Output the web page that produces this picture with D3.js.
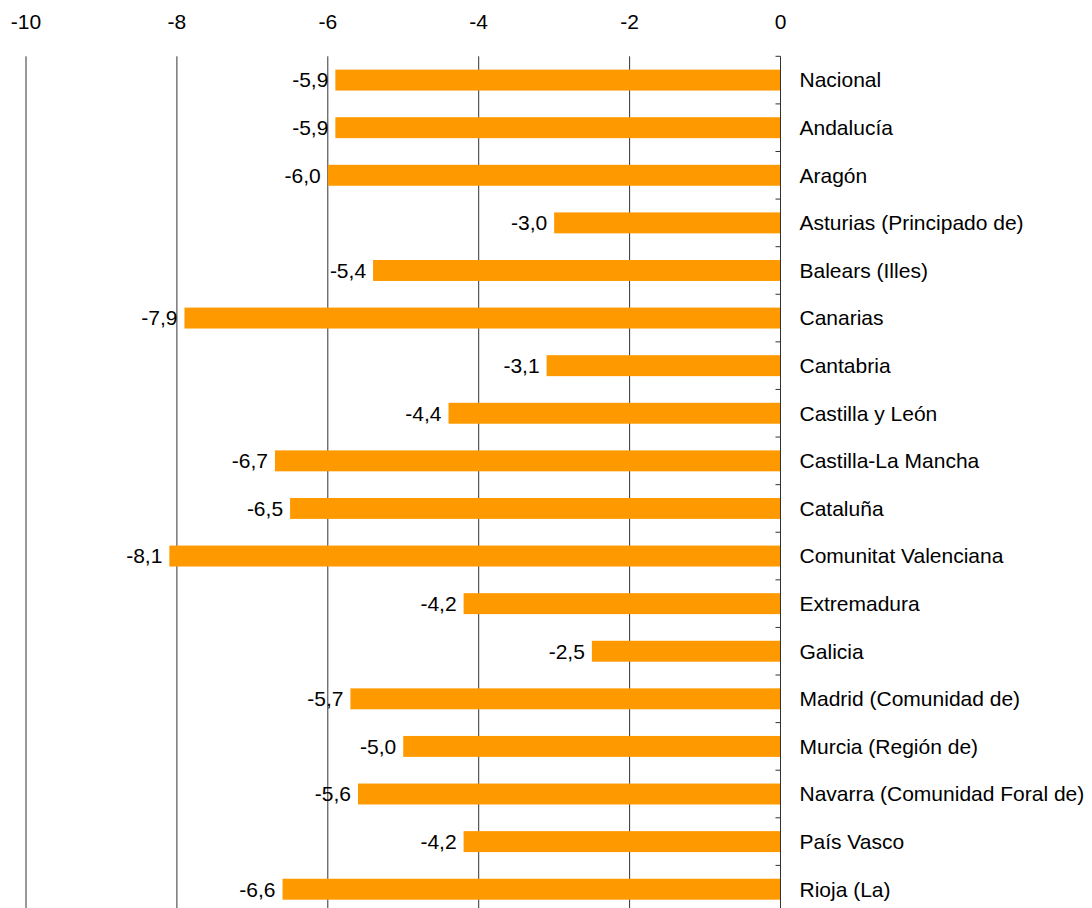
<!DOCTYPE html>
<html>
<head>
<meta charset="utf-8">
<script src="https://cdn.jsdelivr.net/npm/d3@7"></script>
<style>
  html, body { margin: 0; padding: 0; background: #fff; }
  svg text { font-family: "Liberation Sans", Arial, sans-serif; fill: #000; }
</style>
</head>
<body>
<div id="chart"></div>
<script>
const regions = [
  'Nacional', 'Andalucía', 'Aragón', 'Asturias (Principado de)', 'Balears (Illes)',
  'Canarias', 'Cantabria', 'Castilla y León', 'Castilla-La Mancha', 'Cataluña',
  'Comunitat Valenciana', 'Extremadura', 'Galicia', 'Madrid (Comunidad de)',
  'Murcia (Región de)', 'Navarra (Comunidad Foral de)', 'País Vasco', 'Rioja (La)'
];
const values = [-5.9, -5.9, -6.0, -3.0, -5.4, -7.9, -3.1, -4.4, -6.7, -6.5, -8.1, -4.2, -2.5, -5.7, -5.0, -5.6, -4.2, -6.6];
const xTicks = [-10, -8, -6, -4, -2, 0];

const width = 1092, height = 908;
const plotLeft = 26, plotRight = 780.5, plotTop = 56.3, plotBottom = 913;
const fontSize = 21;

const svg = d3.select('#chart').append('svg')
  .attr('width', width)
  .attr('height', height);

const x = d3.scaleLinear().domain([-10, 0]).range([plotLeft, plotRight]);
const y = d3.scaleBand().domain(regions).range([plotTop, plotBottom]).paddingInner(0.56).paddingOuter(0.28);
const yb = d3.scaleBand().domain(regions).range([plotTop, plotBottom]);

// vertical gridlines
svg.append('g')
  .selectAll('line')
  .data(xTicks.filter(t => t !== 0))
  .join('line')
  .attr('x1', d => x(d)).attr('x2', d => x(d))
  .attr('y1', plotTop).attr('y2', plotBottom)
  .attr('stroke', '#333')
  .attr('stroke-width', 1);

// top tick labels
svg.append('g')
  .selectAll('text')
  .data(xTicks)
  .join('text')
  .attr('x', d => x(d))
  .attr('y', 29)
  .attr('text-anchor', 'middle')
  .attr('font-size', fontSize)
  .text(d => d);

// bars
svg.append('g')
  .selectAll('rect')
  .data(regions)
  .join('rect')
  .attr('x', (d, i) => x(values[i]))
  .attr('y', d => y(d))
  .attr('width', (d, i) => x(0) - x(values[i]))
  .attr('height', y.bandwidth())
  .attr('fill', '#FF9900');

// value labels
svg.append('g')
  .selectAll('text')
  .data(regions)
  .join('text')
  .attr('x', (d, i) => x(values[i]) - 7)
  .attr('y', d => y(d) + y.bandwidth() / 2)
  .attr('dy', '0.35em')
  .attr('text-anchor', 'end')
  .attr('font-size', fontSize)
  .text((d, i) => values[i].toFixed(1).replace('.', ','));

// category axis at zero
const axis = svg.append('g');
axis.append('line')
  .attr('x1', x(0)).attr('x2', x(0))
  .attr('y1', plotTop).attr('y2', plotBottom)
  .attr('stroke', '#333');
axis.selectAll('line.tick')
  .data(regions.concat(['__end']))
  .join('line')
  .attr('class', 'tick')
  .attr('x1', x(0) - 5).attr('x2', x(0))
  .attr('y1', (d, i) => plotTop + i * yb.bandwidth())
  .attr('y2', (d, i) => plotTop + i * yb.bandwidth())
  .attr('stroke', '#333');
axis.selectAll('text')
  .data(regions)
  .join('text')
  .attr('x', x(0) + 19)
  .attr('y', d => yb(d) + yb.bandwidth() / 2)
  .attr('dy', '0.35em')
  .attr('font-size', fontSize)
  .text(d => d);
</script>
</body>
</html>
